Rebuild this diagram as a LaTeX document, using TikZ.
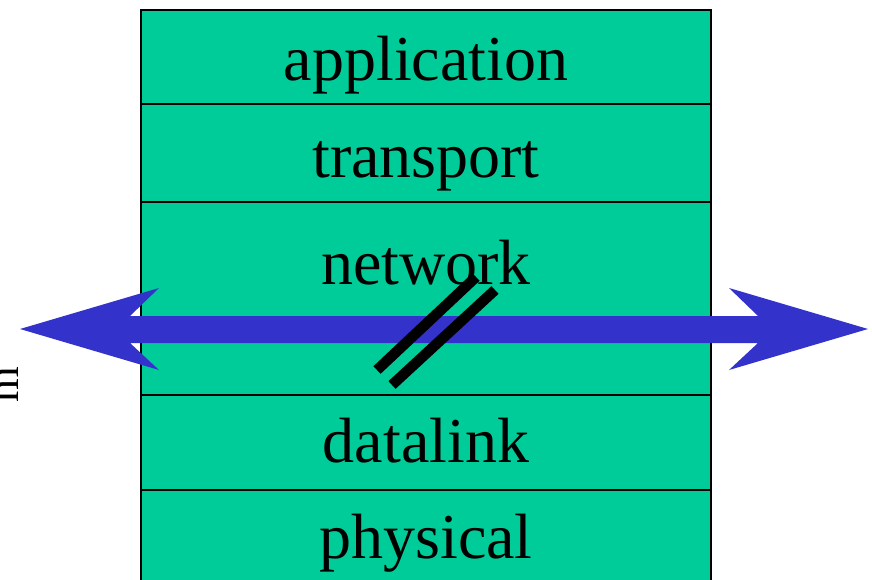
\documentclass[tikz,border=0pt]{standalone}
\usepackage{fontspec}
\setmainfont{Liberation Serif}
\definecolor{layergreen}{HTML}{00CC99}
\definecolor{linkblue}{HTML}{3333CC}
\begin{document}
\begin{tikzpicture}[x=1pt,y=-1pt,
  layer/.style={draw=black, line width=2.5pt, fill=layergreen, minimum width=570pt,
    inner sep=0pt, outer sep=0pt, anchor=north west},
  layertext/.style={anchor=base, inner sep=0pt, font=\fontsize{64}{70}\selectfont},
  slash/.style={line width=10.5pt, black}]
\useasboundingbox (0,0) rectangle (872,580);
% protocol stack
\node[layer, minimum height=94pt]  (app)  at (141,10)  {};
\node[layer, minimum height=98pt]  (tra)  at (141,104) {};
\node[layer, minimum height=193pt] (net)  at (141,202) {};
\node[layer, minimum height=95pt]  (dl)   at (141,395) {};
\node[layer, minimum height=120pt] (phy)  at (141,490) {};
% layer names
\node[layertext] (tapp) at (426,81)  {application};
\node[layertext] (ttra) at (426,178) {transport};
\node[layertext] (tnet) at (426,284) {network};
\node[layertext] (tdl)  at (426,462) {datalink};
\node[layertext] (tphy) at (426,558) {physical};
% side label, running off the left edge
\node[layertext, rotate=90, font=\fontsize{46}{50}\selectfont] (side) at (18,385) {m};
% double-headed arrow through the network layer
\fill[linkblue] (20,329) -- (159,288) -- (130,316) -- (758,316) -- (729,288)
  -- (868,329) -- (729,370) -- (758,343) -- (130,343) -- (159,370) -- cycle;
% break marks
\draw[slash] (377,370) -- (476,277);
\draw[slash] (392,385) -- (495,290);
\end{tikzpicture}
\end{document}
